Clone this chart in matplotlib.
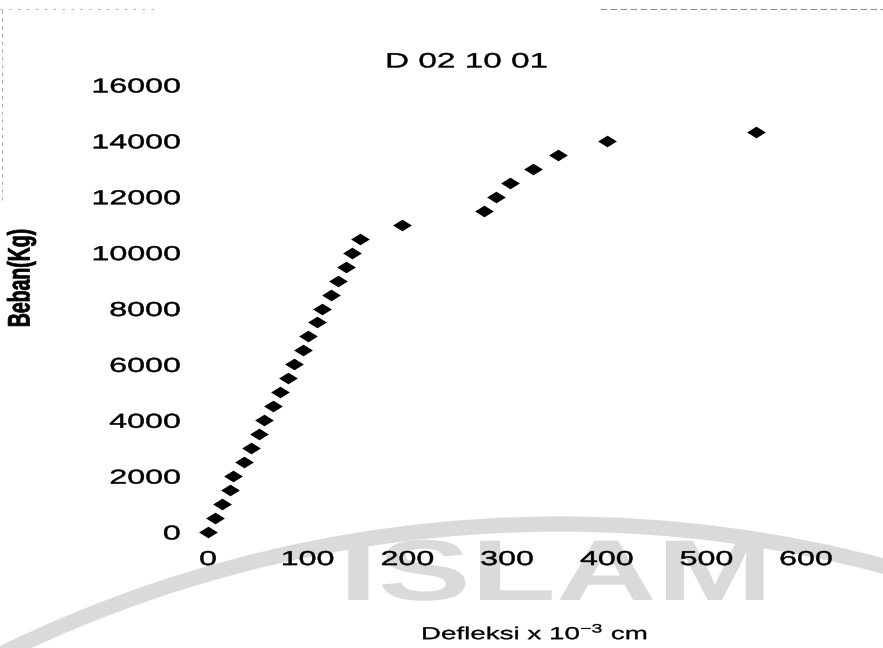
import matplotlib
matplotlib.use("Agg")
import matplotlib.pyplot as plt
from matplotlib.path import Path
from matplotlib.patches import Arc
from matplotlib.transforms import Affine2D
from matplotlib import patheffects

plt.rcParams['font.family'] = ['Liberation Sans', 'DejaVu Sans']
plt.rcParams['mathtext.fontset'] = 'custom'
plt.rcParams['mathtext.rm'] = 'Liberation Sans'

# Load test readings: deflection (x 10^-3 cm) versus load (kg)
deflection = [0, 7, 14, 22, 25, 36, 43, 51, 56, 65, 72, 80,
              86, 95, 100, 109, 114, 123, 130, 138, 144, 153,
              195, 277, 289, 303, 326, 351, 400, 550]
load = [0, 500, 1000, 1500, 2000, 2500, 3000, 3500, 4000, 4500, 5000, 5500,
        6000, 6500, 7000, 7500, 8000, 8500, 9000, 9500, 10000, 10500,
        11000, 11500, 12000, 12500, 13000, 13500, 14000, 14300]

x_ticks = [0, 100, 200, 300, 400, 500, 600]
y_ticks = [0, 2000, 4000, 6000, 8000, 10000, 12000, 14000, 16000]

title = "D 02 10 01"
x_label = r"Defleksi x 10$^{\mathregular{-3}}$ cm"
y_label = "Beban(Kg)"


class Widen(patheffects.AbstractPathEffect):
    """Draw text glyphs widened along the page's horizontal direction,
    optionally with a thin outline to thicken the strokes."""

    def __init__(self, factor, anchor='center', along='x', stroke=0.0):
        super().__init__()
        self.factor = factor
        self.anchor = anchor
        self.along = along
        self.stroke = stroke

    def draw_path(self, renderer, gc, tpath, affine, rgbFace=None):
        ext = tpath.get_extents()
        if self.along == 'x':
            if self.anchor == 'right':
                c = ext.x1
            elif self.anchor == 'left':
                c = ext.x0
            else:
                c = 0.5 * (ext.x0 + ext.x1)
            pre = Affine2D().translate(-c, 0).scale(self.factor, 1).translate(c, 0)
        else:
            c = 0.5 * (ext.y0 + ext.y1)
            pre = Affine2D().translate(0, -c).scale(1, self.factor).translate(0, c)
        gc0 = renderer.new_gc()
        gc0.copy_properties(gc)
        if self.stroke > 0 and rgbFace is not None:
            gc0.set_linewidth(self.stroke)
            gc0.set_foreground(rgbFace)
            gc0.set_joinstyle('round')
        renderer.draw_path(gc0, tpath, pre + affine, rgbFace)
        gc0.restore()


SX = 1.6

W, H = 883, 648
fig = plt.figure(figsize=(W / 100, H / 100), dpi=100)
fig.patch.set_facecolor('white')

# Background watermark (faint university seal)
bg = fig.add_axes([0, 0, 1, 1], zorder=0)
bg.set_xlim(0, W)
bg.set_ylim(H, 0)
bg.axis('off')
wm = '#dadada'
bg.add_patch(Arc((560, 1790), 2 * 1266, 2 * 1266, theta1=240, theta2=300,
                 color=wm, lw=11))
bg.text(556, 578, "ISLAM", color=wm, fontsize=62, fontweight='bold',
        ha='center', va='center', family='Liberation Sans',
        path_effects=[Widen(1.62)])
bg.plot([0, 160], [9, 9], color='#b0b0b0', lw=0.8, ls=(0, (2, 6)))
bg.plot([600, 883], [9, 9], color='#909090', lw=0.8, ls=(0, (6, 3)))
bg.plot([2, 2], [10, 200], color='#b0b0b0', lw=0.8, ls=(0, (3, 4)))

# Main scatter panel
x0, x1 = 208, 806
y0, y1 = 532, 85
ax = fig.add_axes([x0 / W, 1 - y0 / H, (x1 - x0) / W, (y0 - y1) / H], zorder=1)
ax.patch.set_alpha(0)
ax.set_xlim(0, 600)
ax.set_ylim(0, 16000)

diamond = Path([(-1.0, 0.0), (0.0, 0.62), (1.0, 0.0), (0.0, -0.62), (-1.0, 0.0)],
               [Path.MOVETO, Path.LINETO, Path.LINETO, Path.LINETO, Path.CLOSEPOLY])
ax.plot(deflection, load, ls='none', marker=diamond, markersize=13.5,
        color='black', markeredgewidth=0, clip_on=False)

for s in ax.spines.values():
    s.set_visible(False)
ax.set_xticks(x_ticks)
ax.set_yticks(y_ticks)
ax.set_xticklabels([str(v) for v in x_ticks])
ax.set_yticklabels([str(v) for v in y_ticks])
ax.tick_params(axis='both', length=0, labelsize=14.5, labelcolor='black')
ax.tick_params(axis='x', pad=13)
ax.tick_params(axis='y', pad=20)
for lab in ax.get_xticklabels():
    lab.set_path_effects([Widen(SX, stroke=0.35)])
for lab in ax.get_yticklabels():
    lab.set_path_effects([Widen(SX, anchor='right', stroke=0.35)])

fig.text(467 / W, 1 - 62 / H, title, ha='center', va='center', fontsize=15,
         path_effects=[Widen(SX, stroke=0.3)])
fig.text(535 / W, 1 - 632 / H, x_label, ha='center', va='center', fontsize=12.5,
         path_effects=[Widen(SX, stroke=0.25)])
fig.text(22 / W, 1 - 278 / H, y_label, ha='center', va='center', fontsize=14,
         rotation=90, fontweight='bold',
         path_effects=[Widen(SX, along='y', stroke=0.5)])

fig.savefig('out.png', dpi=100, facecolor='white')
